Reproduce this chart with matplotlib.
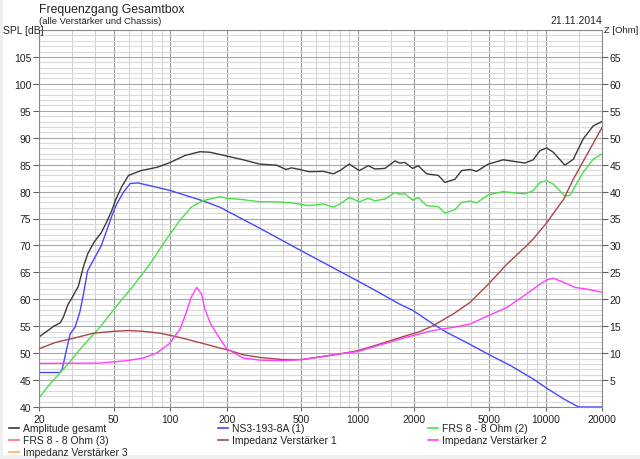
import matplotlib
matplotlib.use("Agg")
import matplotlib.pyplot as plt
from matplotlib.ticker import FixedLocator, MultipleLocator, NullFormatter
from matplotlib.patches import Rectangle

plt.rcParams['font.family'] = ['Liberation Sans', 'DejaVu Sans']

# ---------------- data ----------------
title = "Frequenzgang Gesamtbox"
subtitle = "(alle Verstärker und Chassis)"
date_text = "21.11.2014"
left_label = "SPL [dB]"
right_label = "Z [Ohm]"

xtick_values = [20, 50, 100, 200, 500, 1000, 2000, 5000, 10000, 20000]
xtick_labels = ["20", "50", "100", "200", "500", "1000", "2000", "5000", "10000", "20000"]
xgrid_values = [30, 40, 60, 70, 80, 90, 150, 300, 400, 600, 700, 800, 900, 1500,
                3000, 4000, 6000, 7000, 8000, 9000, 15000]

series_names = ["Amplitude gesamt", "NS3-193-8A (1)", "FRS 8 - 8 Ohm (2)",
                "FRS 8 - 8 Ohm (3)", "Impedanz Verstärker 1", "Impedanz Verstärker 2",
                "Impedanz Verstärker 3"]

amp_f = [20, 24, 25.9, 26.9, 28.6, 29.7, 31.1, 32.4, 34.4, 36.3, 39.3, 43.0, 45.8, 48.9,
         51.4, 55, 60, 70, 85, 100, 120, 144, 163, 200, 245, 300, 369, 414, 443, 492, 545,
         655, 740, 803, 900, 1018, 1136, 1230, 1395, 1577, 1670, 1783, 1959, 2098, 2326,
         2684, 2911, 3292, 3573, 3956, 4295, 4955, 5955, 7766, 8600, 9340, 10140, 11000,
         12690, 14060, 15890, 17960, 20000]
amp_db = [53.0, 55.0, 55.6, 56.6, 59.1, 60.0, 61.3, 62.4, 65.9, 68.4, 70.6, 72.4, 74.3, 76.5,
          78.6, 80.8, 83.0, 83.9, 84.5, 85.4, 86.7, 87.4, 87.3, 86.6, 85.9, 85.1, 84.9, 84.1,
          84.4, 84.1, 83.7, 83.75, 83.3, 83.9, 85.1, 83.9, 84.8, 84.2, 84.3, 85.7, 85.3, 85.4,
          84.3, 84.8, 83.3, 83.0, 81.7, 82.3, 83.9, 84.1, 83.75, 85.1, 85.9, 85.3, 85.9, 87.6,
          88.1, 87.3, 84.9, 86.0, 89.8, 92.2, 93.0]

ns3_f = [20, 25.9, 26.6, 28.1, 29.3, 31.1, 33.0, 34.4, 36.3, 39.3, 43.0, 45.8, 48.9, 51.9,
         56.3, 61.3, 67.3, 78, 100, 122, 149, 184, 300, 500, 1000, 1200, 1670, 1973, 2520,
         2960, 3780, 4955, 6500, 8600, 10140, 12500, 15000, 20000]
ns3_db = [46.4, 46.4, 47.05, 50.8, 53.55, 54.8, 57.6, 60.7, 65.3, 67.5, 70.0, 72.7, 75.5, 77.7,
          79.85, 81.5, 81.6, 81.1, 80.2, 79.25, 78.3, 77.1, 73.2, 69.0, 63.4, 61.9, 59.1, 57.9,
          55.4, 53.9, 52.0, 49.8, 47.7, 45.2, 43.5, 41.5, 40.0, 40.0]

frs2_f = [20, 22.9, 28.1, 34.4, 42.2, 51.9, 63.6, 78, 95.7, 113, 129.5, 149, 184, 200, 245,
          300, 369, 443, 545, 655, 740, 803, 900, 1018, 1136, 1230, 1395, 1577, 1670, 1783,
          1959, 2098, 2326, 2684, 2911, 3292, 3573, 3956, 4295, 4955, 5955, 7766, 8600, 9340,
          10140, 11000, 12690, 13490, 15890, 17960, 20000]
frs2_db = [41.7, 44.3, 47.7, 51.4, 54.8, 58.8, 62.5, 66.55, 71.2, 74.7, 77.1, 78.3, 79.05,
           78.75, 78.5, 78.1, 78.1, 77.9, 77.4, 77.7, 77.1, 77.7, 78.9, 78.1, 78.75, 78.3, 78.6,
           79.85, 79.5, 79.6, 78.4, 78.9, 77.4, 77.2, 76.0, 76.65, 78.0, 78.25, 77.9, 79.4,
           80.0, 79.55, 80.2, 81.7, 82.0, 81.4, 79.15, 79.3, 83.6, 86.0, 87.0]

frs3_f = []
frs3_db = []

imp1_f = [20, 24.5, 30.4, 39, 49.8, 60, 72, 88.3, 103, 122, 144, 184, 200, 245, 300, 400,
          500, 600, 740, 1000, 1370, 1810, 2140, 2520, 3230, 3956, 4955, 6240, 7930, 8600,
          10140, 12500, 14060, 16500, 20000]
imp1_ohm = [10.8, 12.0, 12.75, 13.7, 14.05, 14.2, 14.05, 13.7, 13.2, 12.6, 11.95, 10.95, 10.65,
            9.7, 9.2, 8.8, 8.8, 9.2, 9.65, 10.45, 11.9, 13.25, 14.0, 15.1, 17.3, 19.4, 22.8,
            26.55, 29.95, 31.2, 34.2, 38.6, 42.3, 46.65, 51.9]

imp2_f = [20, 42.2, 58.6, 72, 84.4, 99.4, 113, 122, 129.5, 138.5, 147, 153, 163, 177, 200,
          245, 300, 400, 500, 600, 740, 1000, 1370, 1810, 2520, 3230, 3956, 4955, 6240, 7930,
          9340, 10140, 11000, 12500, 14340, 16500, 20000]
imp2_ohm = [8.1, 8.15, 8.6, 9.1, 10.0, 11.8, 14.5, 17.6, 20.4, 22.2, 21.0, 18.2, 15.7, 13.6,
            10.8, 9.1, 8.7, 8.6, 8.8, 9.2, 9.7, 10.3, 11.7, 12.95, 14.2, 14.8, 15.4, 16.95,
            18.5, 21.0, 22.8, 23.6, 23.9, 23.15, 22.2, 21.9, 21.3]

imp3_f = []
imp3_ohm = []

colors = ["#3a3a3a", "#4848ff", "#48e048", "#ff7070", "#a84848", "#ff40ff", "#ffb060"]

# ---------------- figure ----------------
fig = plt.figure(figsize=(6.4, 4.6), dpi=100, facecolor="white")
W, H = 640.0, 460.0
x0, x1, y0, y1 = 39, 602, 31, 408
ax = fig.add_axes([x0 / W, 1 - y1 / H, (x1 - x0) / W, (y1 - y0) / H])
ax.set_xscale("log")
ax.set_xlim(20, 20000)
ax.set_ylim(40, 110)

ax.xaxis.set_major_locator(FixedLocator(xtick_values))
ax.set_xticklabels(xtick_labels)
ax.xaxis.set_minor_locator(FixedLocator(xgrid_values))
ax.xaxis.set_minor_formatter(NullFormatter())
ax.yaxis.set_major_locator(FixedLocator(list(range(40, 110, 5))))
ax.yaxis.set_minor_locator(MultipleLocator(1))

ax.grid(which="minor", axis="y", color="#dadada", lw=0.8, zorder=0)
ax.grid(which="minor", axis="x", color="#d2d2d2", lw=0.8, zorder=0)
ax.grid(which="major", axis="y", color="#a6a6a6", lw=0.8, zorder=0)
ax.grid(which="major", axis="x", color="#9a9a9a", lw=0.8, zorder=0)
ax.set_axisbelow(True)

ax.tick_params(which="minor", length=0)
ax.tick_params(which="major", axis="y", length=4, width=0.8, color="#606060",
               labelsize=7.5, pad=1.5, labelcolor="#222222")
ax.tick_params(which="major", axis="x", length=3, width=0.8, color="#606060",
               labelsize=7.5, pad=2, labelcolor="#222222")
for s in ax.spines.values():
    s.set_color("#8a8a8a")
    s.set_linewidth(0.8)

ax2 = ax.twinx()
ax2.set_ylim(0, 70)
ax2.yaxis.set_major_locator(FixedLocator(list(range(5, 70, 5))))
ax2.tick_params(axis="y", length=4, width=0.8, color="#606060", labelsize=7.5, pad=1.5,
                labelcolor="#222222")
for s in ax2.spines.values():
    s.set_visible(False)

lw = 1.0
h = []
h += ax.plot(amp_f, amp_db, color=colors[0], lw=lw, label=series_names[0])
h += ax.plot(ns3_f, ns3_db, color=colors[1], lw=lw, label=series_names[1])
h += ax.plot(frs2_f, frs2_db, color=colors[2], lw=lw, label=series_names[2])
h += ax.plot(frs3_f, frs3_db, color=colors[3], lw=lw, label=series_names[3])
h += ax2.plot(imp1_f, imp1_ohm, color=colors[4], lw=lw, label=series_names[4])
h += ax2.plot(imp2_f, imp2_ohm, color=colors[5], lw=lw, label=series_names[5])
h += ax2.plot(imp3_f, imp3_ohm, color=colors[6], lw=lw, label=series_names[6])

# legend: 3 columns, row-major order
col_x = [9, 218, 428]
row_y = [429, 441, 453]
for i, hl in enumerate(h):
    r, c = divmod(i, 3)
    lx = col_x[c] / W
    ly = 1 - row_y[r] / H
    fig.add_artist(plt.Line2D([lx, lx + 10 / W], [ly, ly], color=hl.get_color(), lw=1.2,
                              transform=fig.transFigure))
    fig.text(lx + 14 / W, ly, hl.get_label(), fontsize=7.5, va="center", ha="left",
             color="#222222")

fig.text(x0 / W, 1 - 10 / H, title, fontsize=8.8, va="center", ha="left", color="#222222")
fig.text(x0 / W, 1 - 21 / H, subtitle, fontsize=6.8, va="center", ha="left", color="#222222")
fig.text(x1 / W, 1 - 21 / H, date_text, fontsize=7.5, va="center", ha="right", color="#222222")
fig.text(3 / W, 1 - 31 / H, left_label, fontsize=7.5, va="center", ha="left", color="#222222")
fig.text(604 / W, 1 - 31 / H, right_label, fontsize=6.8, va="center", ha="left",
         color="#222222")

# window frame
fig.patches.append(Rectangle((0, 0), 3 / W, 1, transform=fig.transFigure,
                             facecolor="#efefef", edgecolor="none"))
fig.patches.append(Rectangle((0, 0), 1, 4 / H, transform=fig.transFigure,
                             facecolor="#efefef", edgecolor="none"))

fig.savefig("out.png", dpi=100, facecolor="white")
